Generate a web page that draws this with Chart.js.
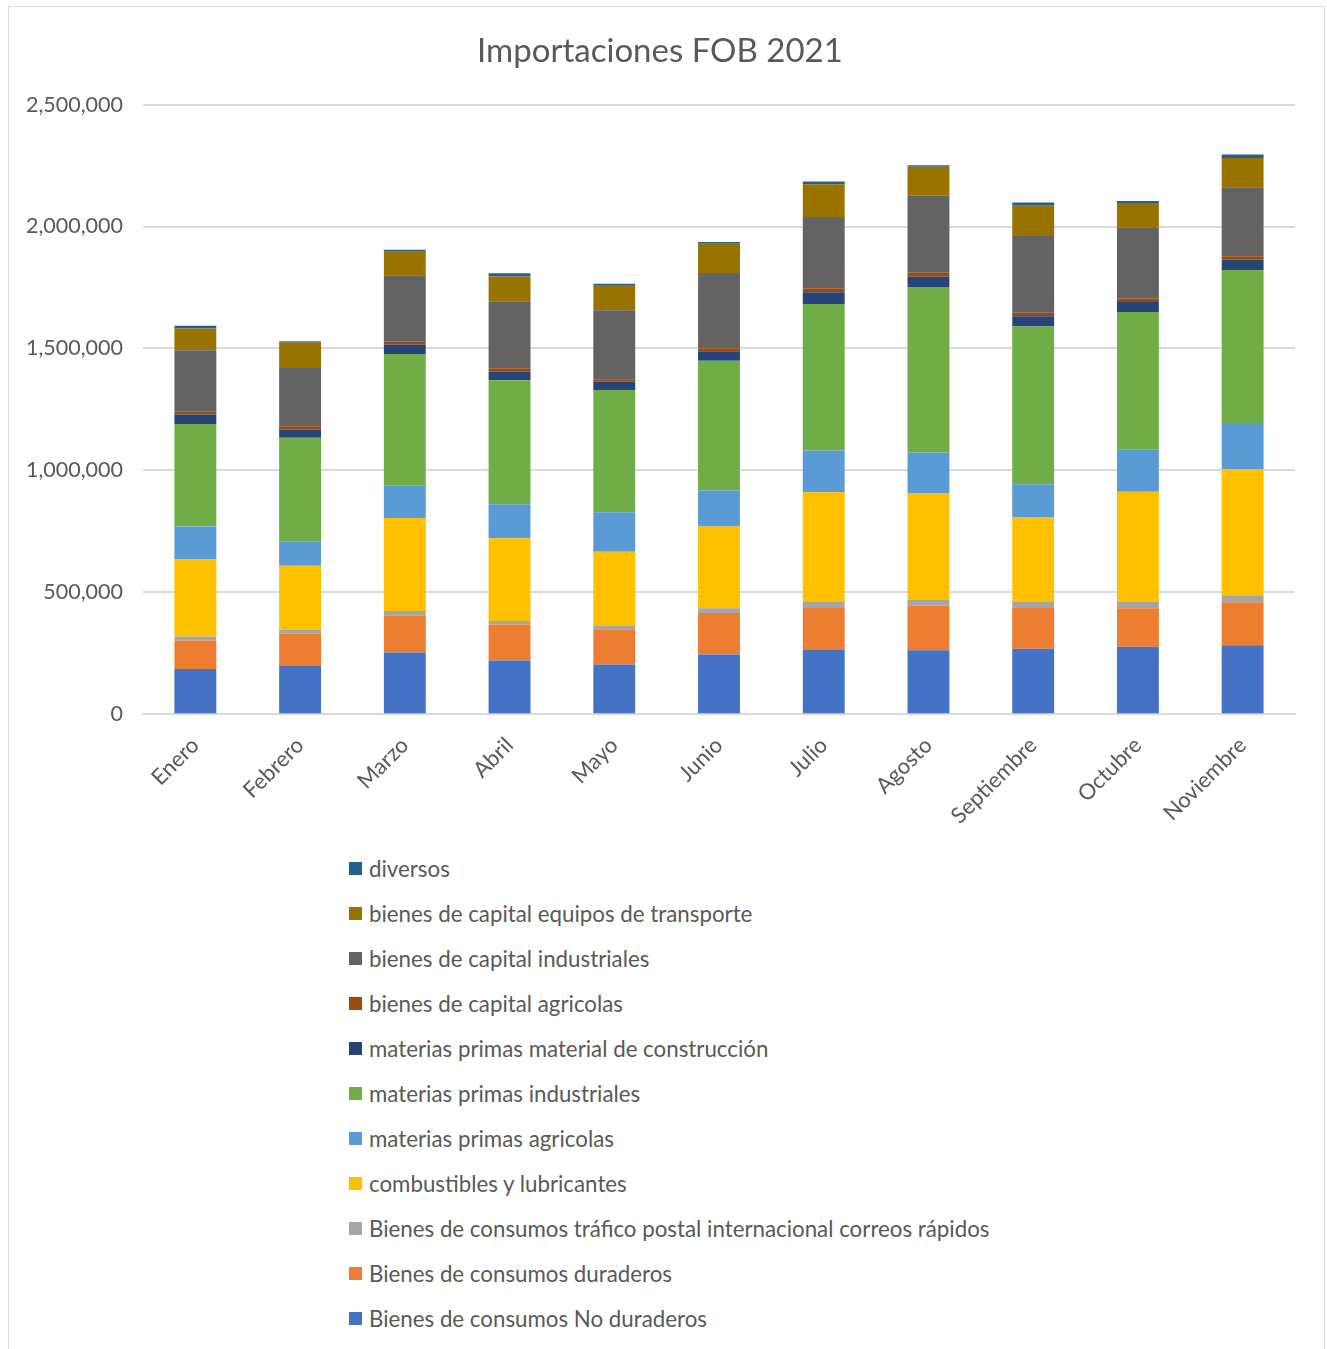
<!DOCTYPE html>
<html>
<head>
<meta charset="utf-8">
<script src="https://cdn.jsdelivr.net/npm/chart.js@4.4.0/dist/chart.umd.min.js"></script>
<style>
  body { margin: 0; background: #fff; font-family: Lato, "Open Sans", sans-serif; }
  #frame { position: absolute; left: 8px; top: 6px; width: 1315px; height: 1370px; border: 1px solid #d9d9d9; }
  #wrap { position: absolute; left: 0; top: 7px; width: 1323px; height: 835px; }
  #legend { position: absolute; left: 349px; top: 857px; color: #595959; font-size: 22.3px; }
  #legend div { height: 45px; display: flex; align-items: center; margin-top: -11px; margin-bottom: 11px; }
  #legend span.box { display: inline-block; width: 13px; height: 13px; margin-right: 7px; }
</style>
</head>
<body>
<div id="frame"></div>
<div id="wrap"><canvas id="chart"></canvas></div>
<div id="legend"></div>
<script>
const months = ['Enero', 'Febrero', 'Marzo', 'Abril', 'Mayo', 'Junio', 'Julio', 'Agosto', 'Septiembre', 'Octubre', 'Noviembre'];

const noDuraderos    = [186000, 198000, 253000, 220000, 204000, 245000, 263000, 262000, 269000, 277000, 283000];
const duraderos      = [116000, 132000, 151000, 148000, 145000, 170000, 173000, 183000, 167000, 158000, 176000];
const postal         = [17000, 16000, 19000, 14000, 15000, 20000, 24000, 23000, 24000, 25000, 29000];
const combustibles   = [316000, 263000, 382000, 340000, 302000, 335000, 450000, 439000, 349000, 452000, 518000];
const mpAgricolas    = [135000, 100000, 134000, 139000, 162000, 148000, 172000, 166000, 134000, 173000, 184000];
const mpIndustriales = [420000, 425000, 538000, 509000, 502000, 532000, 600000, 679000, 647000, 564000, 632000];
const mpConstruccion = [39000, 33000, 39000, 34000, 34000, 39000, 49000, 42000, 42000, 42000, 43000];
const bcAgricolas    = [11000, 14000, 11000, 15000, 10000, 12000, 16000, 16000, 14000, 14000, 13000];
const bcIndustriales = [253000, 239000, 273000, 275000, 283000, 308000, 292000, 316000, 315000, 292000, 283000];
const bcTransporte   = [89000, 104000, 97000, 101000, 103000, 120000, 134000, 119000, 124000, 100000, 120000];
const diversos       = [11000, 6000, 8000, 13000, 5000, 8000, 12000, 6000, 14000, 8000, 14000];

const yTicks = [0, 500000, 1000000, 1500000, 2000000, 2500000];

const series = [
  ['Bienes de consumos No duraderos', noDuraderos, '#4472C4'],
  ['Bienes de consumos duraderos', duraderos, '#ED7D31'],
  ['Bienes de consumos tráfico postal internacional correos rápidos', postal, '#A5A5A5'],
  ['combustibles y lubricantes', combustibles, '#FFC000'],
  ['materias primas agricolas', mpAgricolas, '#5B9BD5'],
  ['materias primas industriales', mpIndustriales, '#70AD47'],
  ['materias primas material de construcción', mpConstruccion, '#264478'],
  ['bienes de capital agricolas', bcAgricolas, '#9E480E'],
  ['bienes de capital industriales', bcIndustriales, '#636363'],
  ['bienes de capital equipos de transporte', bcTransporte, '#997300'],
  ['diversos', diversos, '#255E91']
];

const font = 'Lato, "Open Sans", sans-serif';
const grey = '#595959';

const ctx = document.getElementById('chart').getContext('2d');

const chart = new Chart(ctx, {
  type: 'bar',
  data: {
    labels: months,
    datasets: series.map(s => ({
      label: s[0],
      data: s[1],
      backgroundColor: s[2],
      categoryPercentage: 1,
      barPercentage: 0.4
    }))
  },
  options: {
    responsive: true,
    maintainAspectRatio: false,
    animation: false,
    layout: { padding: { top: 20, right: 28, bottom: 3, left: 25 } },
    plugins: {
      legend: { display: false },
      tooltip: { enabled: false },
      title: {
        display: true,
        text: 'Importaciones FOB 2021',
        color: grey,
        font: { family: font, size: 33, weight: 'normal' },
        padding: { top: 5, bottom: 33 }
      }
    },
    scales: {
      x: {
        stacked: true,
        grid: { display: false },
        border: { color: '#d9d9d9', width: 2 },
        ticks: { color: grey, font: { family: font, size: 22 }, minRotation: 45, maxRotation: 45, padding: 10 }
      },
      y: {
        stacked: true,
        min: 0,
        max: 2500000,
        afterBuildTicks: axis => { axis.ticks = yTicks.map(v => ({ value: v })); },
        // tight axis box so the title sits nearer the centre
        afterFit: axis => { axis.width = 118; },
        border: { display: false },
        grid: { color: '#d9d9d9', lineWidth: 2, drawTicks: false },
        ticks: {
          color: grey,
          font: { family: font, size: 21.5 },
          padding: 20,
          callback: v => v.toLocaleString('en-US')
        }
      }
    }
  }
});

// legend listed top-down, last series first
const legend = document.getElementById('legend');
chart.data.datasets.slice().reverse().forEach(ds => {
  const row = document.createElement('div');
  row.innerHTML = '<span class="box" style="background:' + ds.backgroundColor + '"></span>' + ds.label;
  legend.appendChild(row);
});
</script>
</body>
</html>
